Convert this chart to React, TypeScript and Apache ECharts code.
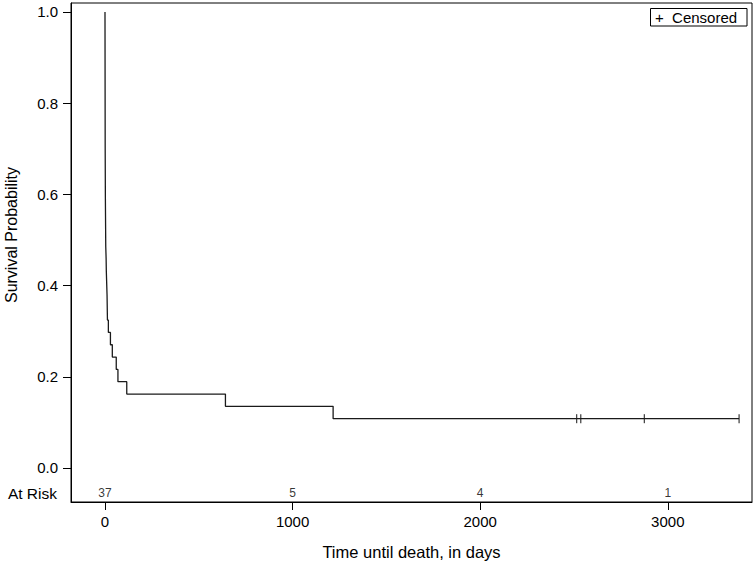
import React, { useEffect, useRef } from "react";
import * as echarts from "echarts";

// Kaplan-Meier data
const N0 = 37;
const eventTimes = [1, 2, 3, 4, 6, 7, 9, 11, 12, 13, 18, 29, 39, 60, 69, 116, 642, 1216];
const deaths = [11, 4, 2, 2, 1, 1, 1, 1, 1, 1, 1, 1, 1, 1, 1, 1, 1, 1];
const censorTimes = [2514, 2536, 2875, 3380];
const riskTimes = [0, 1000, 2000, 3000];
const atRisk = [37, 5, 4, 1];
const xTicks = [0, 1000, 2000, 3000];
const yTicks = [0, 0.2, 0.4, 0.6, 0.8, 1.0];

const FONT = "'Liberation Sans', Arial, Helvetica, sans-serif";

export default function App() {
  const ref = useRef<HTMLDivElement>(null);

  useEffect(() => {
    if (!ref.current) return;
    const chart = echarts.init(ref.current, undefined, { renderer: "svg" });

    // KM step curve
    const curve: [number, number][] = [[0, 1]];
    let alive = N0;
    for (let i = 0; i < eventTimes.length; i++) {
      alive -= deaths[i];
      curve.push([eventTimes[i], alive / N0]);
    }
    const sLast = alive / N0;
    curve.push([censorTimes[censorTimes.length - 1], sLast]);
    const censorPts = censorTimes.map((t) => [t, sLast]);
    const riskY = -0.0548;
    const riskPts = riskTimes.map((t, i) => [t, riskY, atRisk[i]]);

    chart.setOption({
      animation: false,
      backgroundColor: "#fff",
      textStyle: { fontFamily: FONT },
      grid: {
        left: 71,
        right: 3,
        top: 3,
        bottom: 61,
        show: true,
        borderColor: "#000",
        borderWidth: 1,
        containLabel: false,
        outerBoundsMode: "none",
      },
      xAxis: {
        type: "value",
        min: -181.2,
        max: 3448.8,
        splitLine: { show: false },
        axisLine: { show: true, onZero: false, lineStyle: { color: "#000", width: 1 } },
        axisTick: { show: true, length: 8, inside: false, customValues: xTicks, lineStyle: { color: "#000" } },
        axisLabel: {
          customValues: xTicks,
          margin: 12,
          fontSize: 15,
          color: "#000",
          fontFamily: FONT,
          formatter: (v: number) => String(v),
        },
      },
      yAxis: {
        type: "value",
        min: -0.0746,
        max: 1.0197,
        splitLine: { show: false },
        axisLine: { show: true, onZero: false, lineStyle: { color: "#000", width: 1 } },
        axisTick: { show: true, length: 8, inside: false, customValues: yTicks, lineStyle: { color: "#000" } },
        axisLabel: {
          customValues: yTicks,
          margin: 13,
          fontSize: 15,
          color: "#000",
          fontFamily: FONT,
          formatter: (v: number) => v.toFixed(1),
        },
      },
      series: [
        {
          type: "line",
          step: "end",
          data: curve,
          showSymbol: false,
          symbol: "none",
          lineStyle: { color: "#1a1a1a", width: 1.3 },
          z: 3,
        },
        {
          type: "scatter",
          data: censorPts,
          symbol: "rect",
          symbolSize: [1.3, 9],
          itemStyle: { color: "#1a1a1a" },
          z: 4,
        },
        {
          type: "scatter",
          data: riskPts,
          symbolSize: 1,
          itemStyle: { color: "rgba(0,0,0,0)" },
          label: {
            show: true,
            position: "inside",
            formatter: (p: any) => String(p.value[2]),
            fontSize: 12,
            color: "#000",
            fontFamily: FONT,
          },
        },
      ],
      graphic: [
        {
          type: "text",
          x: 57,
          y: 493,
          style: {
            text: "At Risk",
            fontSize: 15.5,
            fontFamily: FONT,
            fill: "#000",
            textAlign: "right",
            textVerticalAlign: "middle",
          },
        },
        {
          type: "text",
          x: 411.5,
          y: 551.5,
          style: {
            text: "Time until death, in days",
            fontSize: 16.5,
            fontFamily: FONT,
            fill: "#000",
            textAlign: "center",
            textVerticalAlign: "middle",
          },
        },
        {
          type: "text",
          x: 11,
          y: 235,
          rotation: Math.PI / 2,
          style: {
            text: "Survival Probability",
            fontSize: 16,
            fontFamily: FONT,
            fill: "#000",
            textAlign: "center",
            textVerticalAlign: "middle",
          },
        },
        {
          type: "rect",
          shape: { x: 650.5, y: 8.5, width: 96.5, height: 17.5 },
          style: { fill: "#fff", stroke: "#000", lineWidth: 1 },
          z: 10,
        },
        {
          type: "text",
          x: 655,
          y: 17.5,
          z: 11,
          style: {
            text: "+  Censored",
            fontSize: 15,
            fontFamily: FONT,
            fill: "#000",
            textVerticalAlign: "middle",
          },
        },
      ],
    });

    return () => chart.dispose();
  }, []);

  return (
    <div
      ref={ref}
      style={{ position: "fixed", left: 0, top: 0, width: 755, height: 563, background: "#fff" }}
    />
  );
}
